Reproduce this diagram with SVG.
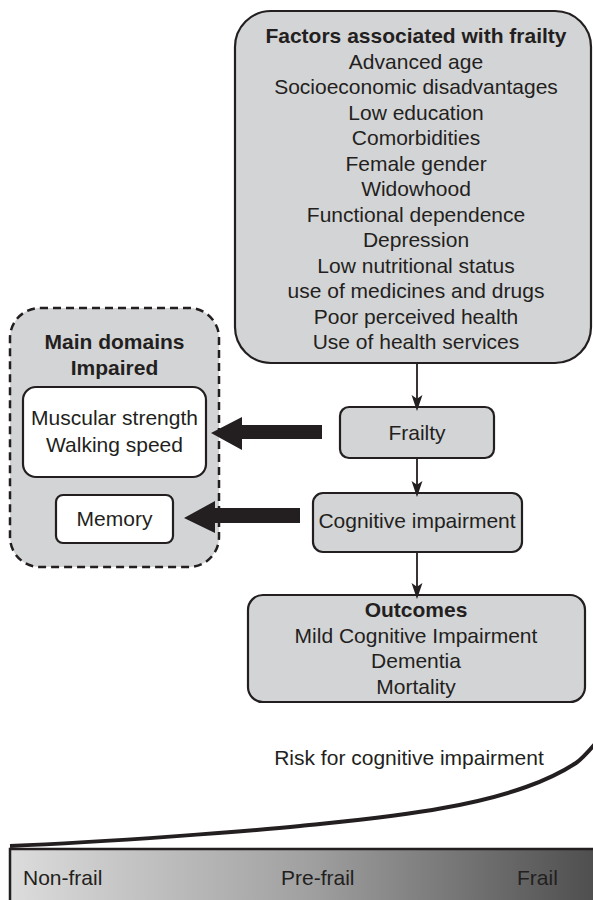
<svg xmlns="http://www.w3.org/2000/svg" width="593" height="900" viewBox="0 0 593 900">
<defs>
<style>
.box{fill:#d3d4d6;stroke:#231f20;stroke-width:2.2}
.wbox{fill:#ffffff;stroke:#231f20;stroke-width:2.2}
.dash{fill:#d3d4d6;stroke:#231f20;stroke-width:2.5;stroke-dasharray:8 5}
text{font-family:"Liberation Sans",Arial,sans-serif;font-size:21px;fill:#231f20;text-anchor:middle}
.b{font-weight:bold}
.st{text-anchor:start}
.thin{stroke:#231f20;stroke-width:1.8;fill:none}
.block{fill:#231f20}
</style>
<marker id="ah" markerWidth="16" markerHeight="22" refX="15" refY="7.5" orient="auto" markerUnits="userSpaceOnUse" viewBox="0 0 22 15">
<path d="M0,0 L22,7.5 L0,15 L5,7.5 Z" fill="#231f20"/>
</marker>
<linearGradient id="grad" x1="0" y1="0" x2="1" y2="0">
<stop offset="0" stop-color="#dcdcdc"/>
<stop offset="0.5" stop-color="#a0a0a0"/>
<stop offset="1" stop-color="#4a4a4a"/>
</linearGradient>
</defs>
<rect width="593" height="900" fill="#ffffff"/>

<g id="factors">
<rect class="box" x="235" y="11" width="356" height="352" rx="36" ry="36"/>
<text class="b" x="416" y="43">Factors associated with frailty</text>
<text x="416" y="68.5">Advanced age</text>
<text x="416" y="94">Socioeconomic disadvantages</text>
<text x="416" y="119.5">Low education</text>
<text x="416" y="145">Comorbidities</text>
<text x="416" y="170.5">Female gender</text>
<text x="416" y="196">Widowhood</text>
<text x="416" y="221.5">Functional dependence</text>
<text x="416" y="247">Depression</text>
<text x="416" y="272.5">Low nutritional status</text>
<text x="416" y="298">use of medicines and drugs</text>
<text x="416" y="323.5">Poor perceived health</text>
<text x="416" y="349">Use of health services</text>
</g>

<g id="frailty">
<rect class="box" x="340" y="407" width="154" height="51" rx="9" ry="9"/>
<text x="417" y="440">Frailty</text>
</g>

<g id="cognitive">
<rect class="box" x="313" y="493" width="209" height="59" rx="10" ry="10"/>
<text x="417" y="528">Cognitive impairment</text>
</g>

<g id="outcomes">
<rect class="box" x="248" y="595" width="337" height="107" rx="15" ry="15"/>
<text class="b" x="416" y="617">Outcomes</text>
<text x="416" y="642.5">Mild Cognitive Impairment</text>
<text x="416" y="668">Dementia</text>
<text x="416" y="693.5">Mortality</text>
</g>

<g id="domains">
<rect class="dash" x="10" y="308" width="209" height="259" rx="30" ry="30"/>
<text class="b" x="114.5" y="349">Main domains</text>
<text class="b" x="114.5" y="375">Impaired</text>
</g>

<g id="muscular">
<rect class="wbox" x="23" y="387" width="183" height="90" rx="13" ry="13"/>
<text x="114.5" y="425">Muscular strength</text>
<text x="114.5" y="452">Walking speed</text>
</g>

<g id="memory">
<rect class="wbox" x="56" y="495" width="117" height="48" rx="7" ry="7"/>
<text x="114.5" y="526">Memory</text>
</g>

<g id="connectors">
<line class="thin" x1="417" y1="364" x2="417" y2="406" marker-end="url(#ah)"/>
<line class="thin" x1="417" y1="459" x2="417" y2="492" marker-end="url(#ah)"/>
<line class="thin" x1="417" y1="553" x2="417" y2="594" marker-end="url(#ah)"/>
<path class="block" d="M322,425 L242,425 L242,417 L211,433 L242,450 L242,439 L322,439 Z"/>
<path class="block" d="M300,508 L215,508 L215,501 L184,518 L215,533 L215,523 L300,523 Z"/>
</g>

<g id="risk">
<text x="409" y="765">Risk for cognitive impairment</text>
<path d="M10,846 C107,842 252,831 300,826 C348,821 395,817 443,808 C471,803 498,797 526,787 C543,781 559,774 576,763 C582,759 588,752 595,744" fill="none" stroke="#231f20" stroke-width="4"/>
</g>

<g id="scale">
<rect x="10" y="849" width="600" height="60" fill="url(#grad)" stroke="#231f20" stroke-width="2.5"/>
<text class="st" x="23" y="885">Non-frail</text>
<text class="st" x="281" y="885">Pre-frail</text>
<text class="st" x="517" y="885">Frail</text>
</g>
</svg>
